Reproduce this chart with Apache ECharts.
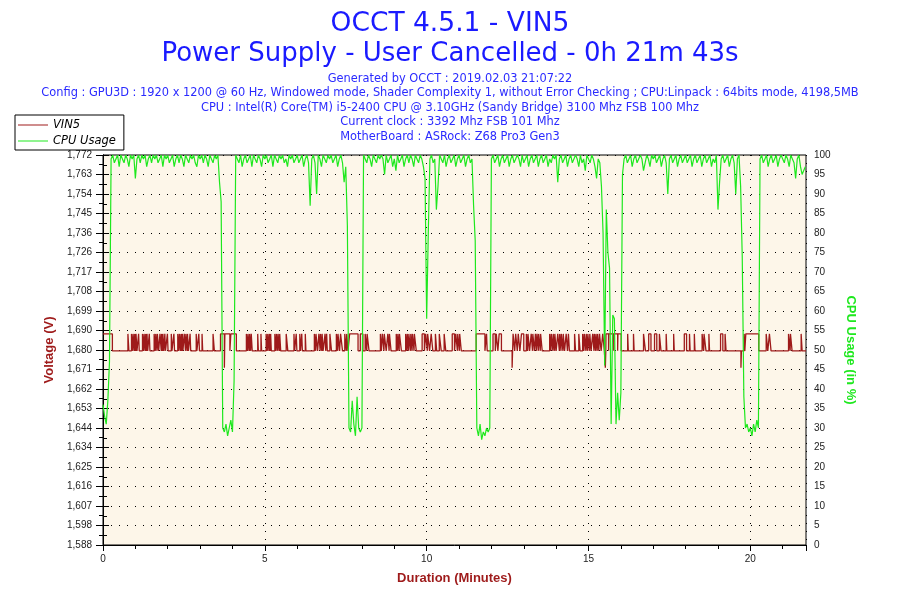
<!DOCTYPE html>
<html><head><meta charset="utf-8">
<script src="https://cdn.jsdelivr.net/npm/echarts@6/dist/echarts.min.js"></script>
<style>html,body{margin:0;padding:0;background:#fff}#c{width:900px;height:600px}</style>
</head><body><div id="c"></div>
<script>
const titleMain = 'OCCT 4.5.1 - VIN5';
const titleSub = 'Power Supply - User Cancelled - 0h 21m 43s';
const infoLines = [
  'Generated by OCCT : 2019.02.03 21:07:22',
  'Config : GPU3D : 1920 x 1200 @ 60 Hz, Windowed mode, Shader Complexity 1, without Error Checking ; CPU:Linpack : 64bits mode, 4198,5MB',
  'CPU : Intel(R) Core(TM) i5-2400 CPU @ 3.10GHz (Sandy Bridge) 3100 Mhz FSB 100 Mhz',
  'Current clock : 3392 Mhz FSB 101 Mhz',
  'MotherBoard : ASRock: Z68 Pro3 Gen3'
];
const seriesNames = ['VIN5', 'CPU Usage'];
const durationMax = 21.72;
const xTickLabels = ['0', '5', '10', '15', '20'];
const voltMin = 1.5884, voltMax = 1.7724;
const voltTickLabels = ['1,588','1,598','1,607','1,616','1,625','1,634','1,644','1,653','1,662','1,671','1,680','1,690','1,699','1,708','1,717','1,726','1,736','1,745','1,754','1,763','1,772'];
const cpuTickLabels = ['0','5','10','15','20','25','30','35','40','45','50','55','60','65','70','75','80','85','90','95','100'];

// CPU usage (%) sampled every 0.05 min, one row per minute
const cpuStep = 0.05;
const cpuUsage = [
  36,33,31,37,47,99,100,98,99,100,97,100,99,98,100,99,97,100,99,100,
  94,99,100,98,100,99,100,97,99,100,98,100,99,100,98,99,100,97,100,99,
  100,98,99,100,97,99,100,98,100,99,97,100,99,98,100,99,100,98,97,100,
  99,100,98,100,99,97,100,99,98,100,99,100,93,88,30,29,31,28,30,32,
  29,42,100,99,98,100,97,99,100,98,99,100,97,100,99,98,100,99,97,100,
  99,100,98,99,100,97,100,99,98,100,99,100,98,99,97,100,99,100,98,99,
  100,98,99,100,97,99,100,98,87,99,100,98,90,100,99,97,100,99,98,100,
  99,100,98,99,100,97,99,100,98,93,97,82,30,29,37,31,28,38,30,29,
  30,100,99,98,100,99,97,100,99,98,100,99,100,99,95,100,98,99,100,97,
  99,96,100,98,99,100,97,99,100,98,100,99,97,100,99,98,100,99,97,94,
  58,80,99,100,98,99,86,92,100,99,98,100,97,99,100,98,99,100,97,99,
  100,98,99,100,97,99,100,98,99,87,78,30,28,31,27,29,28,30,29,30,
  99,100,98,99,100,97,99,100,98,99,100,97,99,100,98,99,100,99,97,100,
  98,99,100,97,99,100,98,99,100,97,99,100,98,99,100,97,99,98,100,99,
  100,93,99,100,98,99,100,97,99,100,98,99,100,99,97,100,98,99,96,100,
  99,98,100,99,97,94,99,98,92,80,46,86,75,71,31,59,58,31,39,32,
  39,95,99,100,98,99,100,97,99,100,98,99,100,99,96,98,100,99,97,100,
  99,100,98,99,100,97,99,100,98,90,99,100,98,99,100,97,99,100,98,99,
  100,98,99,100,97,99,100,98,99,100,97,99,100,98,99,100,97,99,98,100,
  86,93,99,100,98,99,100,97,99,100,98,90,99,100,92,74,38,30,31,29,
  30,28,31,29,32,30,99,100,98,99,100,97,99,100,98,99,100,97,99,100,
  99,98,100,99,97,100,99,98,94,99,100,97,95,96,97
];

// VIN5 levels (V) and the time spans (min) where it reads the high level
const vinLow = 1.680, vinHigh = 1.688, vinDip = 1.672;
const vinHighSpans = [
  [0.00,0.29],[0.77,0.80],[0.88,0.92],[0.93,0.97],[0.98,1.01],[1.02,1.05],[1.10,1.12],
  [1.22,1.26],[1.27,1.31],[1.32,1.35],[1.36,1.38],[1.43,1.45],[1.58,1.62],[1.63,1.67],[1.68,1.72],
  [1.76,1.80],[1.81,1.84],[1.85,1.88],[1.91,1.93],[1.99,2.01],[2.11,2.13],[2.19,2.21],
  [2.31,2.35],[2.36,2.40],[2.41,2.44],[2.45,2.47],[2.51,2.55],[2.56,2.60],[2.61,2.64],[2.69,2.71],
  [2.88,2.90],[2.96,2.98],[3.06,3.08],[3.40,3.44],[3.63,3.92],[3.95,4.12],
  [4.43,4.47],[4.48,4.52],[4.53,4.56],[4.58,4.61],[4.78,4.80],[4.88,4.90],
  [5.04,5.08],[5.09,5.13],[5.14,5.17],[5.18,5.20],[5.31,5.35],[5.36,5.40],[5.41,5.45],[5.46,5.49],
  [5.66,5.71],[5.90,5.92],[5.97,5.99],[6.08,6.10],[6.14,6.16],[6.25,6.27],
  [6.53,6.57],[6.58,6.63],[6.67,6.71],[6.72,6.76],[6.77,6.80],[6.86,6.88],[6.91,6.93],
  [7.01,7.06],[7.21,7.25],[7.26,7.31],[7.34,7.40],[7.47,7.52],[7.53,7.57],[7.62,7.88],[7.95,8.03],
  [8.10,8.15],[8.16,8.22],[8.57,8.60],[8.63,8.68],[8.69,8.75],[8.80,8.84],[8.85,8.90],
  [9.06,9.10],[9.11,9.15],[9.16,9.22],[9.35,9.39],[9.40,9.44],[9.45,9.50],[9.51,9.55],[9.56,9.61],[9.62,9.68],
  [9.86,9.93],[9.97,10.02],[10.03,10.09],[10.14,10.19],[10.27,10.31],[10.39,10.45],[10.54,10.59],
  [10.79,10.86],[10.90,10.95],[10.96,11.01],[11.02,11.07],
  [11.53,11.80],[11.85,11.87],[12.05,12.12],[12.15,12.20],[12.24,12.31],
  [12.67,12.72],[12.75,12.80],[12.83,12.88],[12.93,13.00],[13.08,13.12],[13.13,13.18],[13.23,13.27],
  [13.28,13.33],[13.36,13.39],[13.41,13.45],[13.46,13.51],[13.52,13.57],
  [13.80,13.84],[13.85,13.90],[13.91,13.95],[13.96,14.00],[14.05,14.10],[14.11,14.15],[14.16,14.21],
  [14.22,14.26],[14.31,14.35],[14.38,14.41],[14.57,14.60],[14.70,14.74],
  [14.82,14.86],[14.87,14.92],[14.93,14.97],[14.98,15.03],[15.04,15.08],
  [15.13,15.17],[15.18,15.22],[15.23,15.27],[15.28,15.32],[15.34,15.39],[15.44,15.49],
  [15.54,15.62],[15.63,15.78],[15.79,15.90],[15.91,16.01],
  [16.21,16.23],[16.39,16.41],[16.70,16.76],[16.86,16.93],[17.04,17.11],[17.19,17.24],[17.40,17.42],
  [17.63,17.65],[17.96,18.03],[18.12,18.14],[18.27,18.29],[18.51,18.56],[18.57,18.63],[18.72,18.74],
  [19.08,19.15],[19.22,19.25],[19.81,19.83],[19.86,20.26],[20.49,20.54],[20.59,20.64],
  [21.18,21.23],[21.24,21.29],[21.57,21.60]
];
const vinDipTimes = [3.75, 12.64, 15.52, 19.71];

function vinLevelAt(t) {
  return vinHighSpans.some(s => t >= s[0] && t < s[1]) ? vinHigh : vinLow;
}
const vinTimes = new Set([0, durationMax]);
vinHighSpans.forEach(s => { vinTimes.add(s[0]); vinTimes.add(s[1]); });
vinDipTimes.forEach(d => { vinTimes.add(d); vinTimes.add(+(d + 0.015).toFixed(3)); });
const vinData = Array.from(vinTimes).sort((a, b) => a - b).map(t =>
  [t, vinDipTimes.includes(t) ? vinDip : vinLevelAt(t)]);
const cpuData = cpuUsage.map((v, i) => [+(i * cpuStep).toFixed(2), v]);

const RED = '#9e1a1a', GREEN = '#1ee81e', BLUE = '#1a1aff';
const labelFont = { fontFamily: 'Liberation Sans', fontSize: 10, color: '#222' };
const dotted = { color: '#000', width: 1, type: [1, 7] };

const titles = [
  { text: titleMain, left: 'center', top: 4, textStyle: { fontFamily: 'DejaVu Sans', fontSize: 26.5, fontWeight: 'normal', color: BLUE, lineHeight: 31 } },
  { text: titleSub, left: 'center', top: 34, textStyle: { fontFamily: 'DejaVu Sans', fontSize: 26, fontWeight: 'normal', color: BLUE, lineHeight: 31 } }
];
infoLines.forEach((line, i) => titles.push({
  text: line, left: 'center', top: 67 + i * 14.5,
  textStyle: { fontFamily: 'DejaVu Sans', fontSize: 11.4, fontWeight: 'normal', color: '#2a2aff', lineHeight: 14 }
}));

const chart = echarts.init(document.getElementById('c'), null, { renderer: 'canvas' });
chart.setOption({
  animation: false,
  backgroundColor: '#fff',
  title: titles,
  legend: {
    orient: 'vertical', left: 15, top: 115,
    backgroundColor: '#fff', borderColor: '#000', borderWidth: 1, borderRadius: 0,
    padding: [4, 8, 3, 3], itemGap: 4, itemWidth: 30, itemHeight: 1,
    textStyle: { fontFamily: 'DejaVu Sans', fontSize: 11.5, fontStyle: 'italic', color: '#000' },
    data: seriesNames.map(n => ({ name: n, icon: 'rect' })),
    z: 10
  },
  grid: {
    left: 103, right: 94, top: 155, bottom: 55,
    show: true, backgroundColor: '#fdf6e9', borderColor: '#000', borderWidth: 1
  },
  xAxis: {
    type: 'value', min: 0, max: durationMax, interval: 5,
    name: 'Duration (Minutes)', nameLocation: 'middle', nameGap: 27,
    nameTextStyle: { fontFamily: 'Liberation Sans', fontSize: 13, fontWeight: 'bold', color: RED },
    axisLine: { show: true, lineStyle: { color: '#000', width: 1 } },
    axisTick: { show: true, length: 6, lineStyle: { color: '#000' } },
    minorTick: { show: true, splitNumber: 5, length: 4, lineStyle: { color: '#000' } },
    splitLine: { show: true, lineStyle: dotted },
    axisLabel: Object.assign({ margin: 9, showMaxLabel: false,
      formatter: v => xTickLabels[Math.round(v / 5)] ?? '' }, labelFont)
  },
  yAxis: [
    {
      type: 'value', position: 'right', min: 0, max: 100, interval: 5,
      name: 'CPU Usage (in %)', nameLocation: 'middle', nameGap: 38, nameRotate: -90,
      nameTextStyle: { fontFamily: 'Liberation Sans', fontSize: 13, fontWeight: 'bold', color: GREEN },
      axisLine: { show: true, lineStyle: { color: '#000', width: 1 } },
      axisTick: { show: true, length: 6, lineStyle: { color: '#000' } },
      minorTick: { show: true, splitNumber: 2, length: 4, lineStyle: { color: '#000' } },
      splitLine: { show: true, lineStyle: dotted },
      axisLabel: Object.assign({ margin: 8, formatter: v => cpuTickLabels[Math.round(v / 5)] ?? '' }, labelFont)
    },
    {
      type: 'value', position: 'left', min: voltMin, max: voltMax, alignTicks: true,
      name: 'Voltage (V)', nameLocation: 'middle', nameGap: 47,
      nameTextStyle: { fontFamily: 'Liberation Sans', fontSize: 13, fontWeight: 'bold', color: RED },
      axisLine: { show: true, lineStyle: { color: '#000', width: 1 } },
      axisTick: { show: true, length: 7, lineStyle: { color: '#000' } },
      minorTick: { show: true, splitNumber: 2, length: 4, lineStyle: { color: '#000' } },
      splitLine: { show: false },
      axisLabel: Object.assign({ margin: 11,
        formatter: v => voltTickLabels[Math.round((v - voltMin) / ((voltMax - voltMin) / 20))] ?? '' }, labelFont)
    }
  ],
  series: [
    {
      name: seriesNames[0], type: 'line', yAxisIndex: 1, step: 'end',
      data: vinData, symbol: 'none', color: RED,
      lineStyle: { color: RED, width: 1.3 }, z: 3
    },
    {
      name: seriesNames[1], type: 'line', yAxisIndex: 0,
      data: cpuData, symbol: 'none', color: GREEN,
      lineStyle: { color: GREEN, width: 1.2 }, z: 4
    }
  ]
});
</script></body></html>
